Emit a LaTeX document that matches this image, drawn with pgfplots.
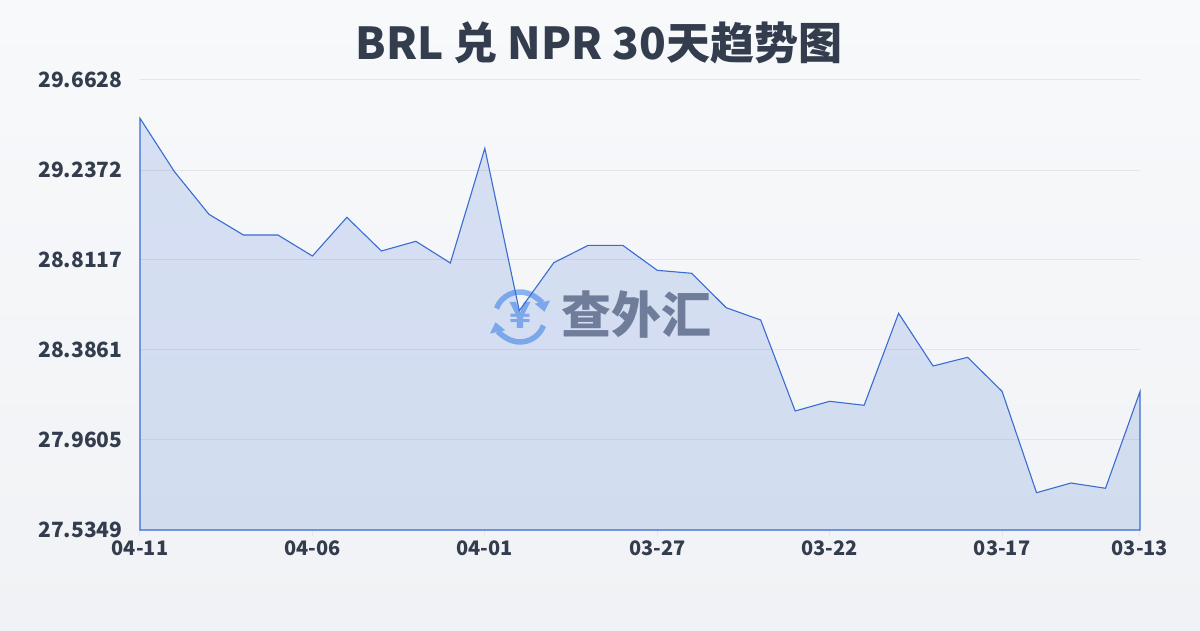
\documentclass[border=0pt]{standalone}
\usepackage{pgfplots}
\pgfplotsset{compat=1.18}
\usepackage{fontspec}
\setmainfont{Noto Sans}
\newfontfamily\cjk{Noto Sans CJK SC}
\usetikzlibrary{arrows.meta}
\definecolor{txt}{RGB}{51,61,77}
\definecolor{lineblue}{RGB}{58,108,209}
\definecolor{gridc}{RGB}{226,229,234}
\definecolor{bgtop}{RGB}{248,249,251}
\definecolor{bgbot}{RGB}{240,242,245}
\definecolor{wm}{RGB}{122,128,144}
\definecolor{iconc}{RGB}{138,180,240}
\begin{document}
\begin{tikzpicture}[x=1pt,y=1pt]
\shade[top color=bgtop,bottom color=bgbot] (0,0) rectangle (1200,630);
\node[text=txt,font=\cjk\bfseries\fontsize{44}{48}\selectfont] at (599,587) {BRL 兑 NPR 30天趋势图};
% watermark
\draw[iconc,line width=5.5pt,-{Triangle[length=10pt,width=15pt]}] (520,313) ++(160:25) arc[start angle=160,end angle=12,radius=25];
\draw[iconc,line width=5.5pt,-{Triangle[length=10pt,width=15pt]}] (520,313) ++(-20:25) arc[start angle=-20,end angle=-168,radius=25];
\node[text=iconc,font=\cjk\bfseries\fontsize{36}{36}\selectfont] at (520,315) {¥};
\node[text=wm,font=\cjk\bfseries\fontsize{50}{50}\selectfont] at (636,315) {查外汇};
\begin{axis}[at={(140pt,100pt)},anchor=south west,scale only axis,
  width=1000pt,height=450pt,
  xmin=0,xmax=29,ymin=27.5349,ymax=29.6628,
  axis line style={draw=none},
  ymajorgrids, grid style={gridc,line width=1pt},
  xtick pos=bottom, ytick pos=left,
  tick align=outside, major tick length=6pt,
  xtick style={gridc,line width=1pt}, ytick style={draw=none},
  xtick={0,5,10,15,20,25,29},
  xticklabels={04-11,04-06,04-01,03-27,03-22,03-17,03-13},
  ytick={27.5349,27.9605,28.3861,28.8117,29.2372,29.6628},
  yticklabels={27.5349,27.9605,28.3861,28.8117,29.2372,29.6628},
  xticklabel style={font=\cjk\bfseries\fontsize{20}{24}\selectfont,text=txt,yshift=-1pt},
  yticklabel style={font=\cjk\bfseries\fontsize{21}{24}\selectfont,text=txt,xshift=-8pt},
  clip=false]
\addplot[draw=lineblue,line width=1.1pt,fill=lineblue,fill opacity=0.17,sharp plot] coordinates {
(0,29.4817) (1,29.2292) (2,29.0277) (3,28.9299) (4,28.9299) (5,28.8305)
(6,29.0135) (7,28.8542) (8,28.9001) (9,28.7974) (10,29.3398) (11,28.5719)
(12,28.7989) (13,28.8811) (14,28.8811) (15,28.7629) (16,28.7487) (17,28.5861)
(18,28.5279) (19,28.0976) (20,28.1435) (21,28.1246) (22,28.5596) (23,28.3104)
(24,28.3515) (25,28.1908) (26,27.7113) (27,27.7571) (28,27.7321) (29,28.1889)
} \closedcycle;
\end{axis}
\end{tikzpicture}
\end{document}
